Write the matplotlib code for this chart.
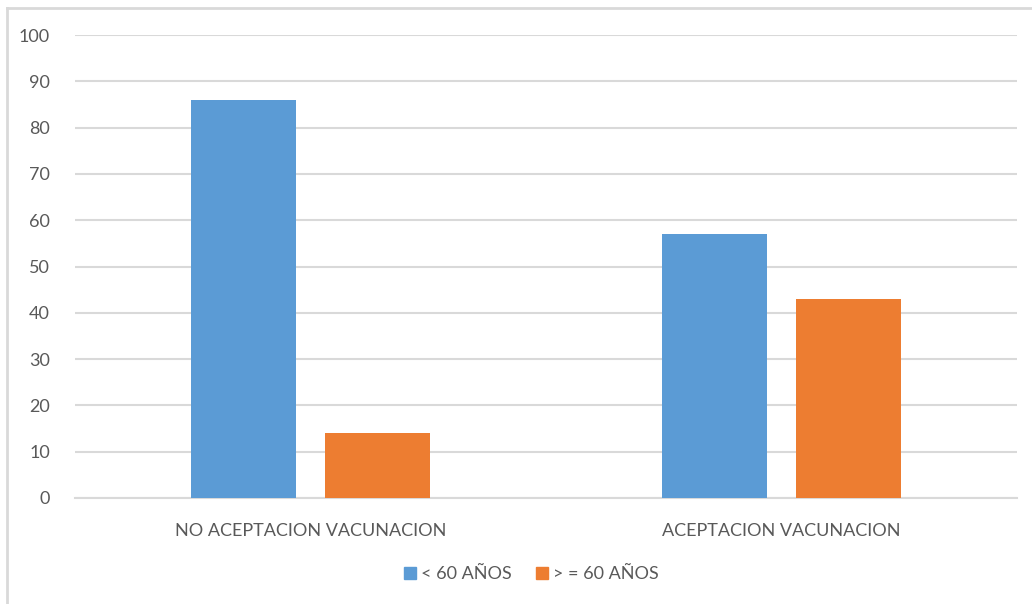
import matplotlib
matplotlib.use("Agg")
import matplotlib.pyplot as plt
import numpy as np
from matplotlib.lines import Line2D

categories = ["NO ACEPTACION VACUNACION", "ACEPTACION VACUNACION"]
series_names = ["< 60 AÑOS", "> = 60 AÑOS"]
menores_60 = [86, 57]
mayores_60 = [14, 43]
yticks = list(range(0, 101, 10))

colors = ["#5B9BD5", "#ED7D31"]
text_color = "#595959"
grid_color = "#D9D9D9"

plt.rcParams['font.family'] = ['Lato', 'DejaVu Sans']

W, H = 1032, 604
fig = plt.figure(figsize=(W / 100, H / 100), dpi=100)
ax = fig.add_axes([75 / W, 1 - 498 / H, (1017 - 75) / W, (498 - 35) / H])

x = np.arange(len(categories))
bw = 0.223
off = 0.143
ax.bar(x - off, menores_60, bw, color=colors[0], label=series_names[0], zorder=3)
ax.bar(x + off, mayores_60, bw, color=colors[1], label=series_names[1], zorder=3)

ax.set_xlim(-0.5, 1.5)
ax.set_ylim(0, 100)
ax.set_yticks(yticks)
ax.set_xticks(x)
ax.set_xticklabels(categories)
ax.yaxis.grid(True, color=grid_color, linewidth=1.5, zorder=0)
ax.set_axisbelow(True)
for s in ["top", "right", "left"]:
    ax.spines[s].set_visible(False)
ax.spines["bottom"].set_color(grid_color)
ax.spines["bottom"].set_linewidth(1.5)
ax.tick_params(axis="both", length=0, labelsize=13, colors=text_color)
ax.tick_params(axis="y", pad=18)
ax.tick_params(axis="x", pad=18)

handles = [Line2D([], [], marker="s", linestyle="none", markersize=9, color=c) for c in colors]
fig.legend(handles, series_names, loc="center", bbox_to_anchor=(530 / W, 1 - 574 / H),
           ncol=2, frameon=False, fontsize=13, labelcolor=text_color,
           handletextpad=0.1, columnspacing=1.2, handlelength=1.0)

# outer frame (top and left edges visible)
fig.add_artist(Line2D([7 / W, 7 / W], [0, 1 - 8 / H], transform=fig.transFigure, color=grid_color, linewidth=2))
fig.add_artist(Line2D([7 / W, 1], [1 - 8 / H, 1 - 8 / H], transform=fig.transFigure, color=grid_color, linewidth=2))

fig.savefig("out.png", dpi=100)
